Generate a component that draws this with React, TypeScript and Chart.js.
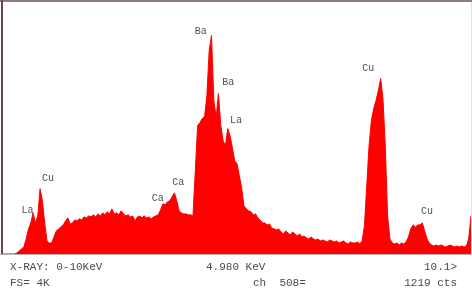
import React, { useEffect, useRef } from "react";
import { Chart, registerables } from "chart.js";

Chart.register(...registerables);

// Energy axis (keV), one entry per sample
const energyKeV: number[] = [
  0.0, 0.05, 0.1, 0.15, 0.2, 0.25, 0.3, 0.35, 0.4, 0.45,
  0.5, 0.55, 0.6, 0.65, 0.7, 0.75, 0.8, 0.85, 0.9, 0.95,
  1.0, 1.05, 1.1, 1.15, 1.2, 1.25, 1.3, 1.35, 1.4, 1.45,
  1.5, 1.55, 1.6, 1.65, 1.7, 1.75, 1.8, 1.85, 1.9, 1.95,
  2.0, 2.05, 2.1, 2.15, 2.2, 2.25, 2.3, 2.35, 2.4, 2.45,
  2.5, 2.55, 2.6, 2.65, 2.7, 2.75, 2.8, 2.85, 2.9, 2.95,
  3.0, 3.05, 3.1, 3.15, 3.2, 3.25, 3.3, 3.35, 3.4, 3.45,
  3.5, 3.55, 3.6, 3.65, 3.7, 3.75, 3.8, 3.85, 3.9, 3.95,
  4.0, 4.05, 4.1, 4.15, 4.2, 4.25, 4.3, 4.35, 4.4, 4.45,
  4.5, 4.55, 4.6, 4.65, 4.7, 4.75, 4.8, 4.85, 4.9, 4.95,
  5.0, 5.05, 5.1, 5.15, 5.2, 5.25, 5.3, 5.35, 5.4, 5.45,
  5.5, 5.55, 5.6, 5.65, 5.7, 5.75, 5.8, 5.85, 5.9, 5.95,
  6.0, 6.05, 6.1, 6.15, 6.2, 6.25, 6.3, 6.35, 6.4, 6.45,
  6.5, 6.55, 6.6, 6.65, 6.7, 6.75, 6.8, 6.85, 6.9, 6.95,
  7.0, 7.05, 7.1, 7.15, 7.2, 7.25, 7.3, 7.35, 7.4, 7.45,
  7.5, 7.55, 7.6, 7.65, 7.7, 7.75, 7.8, 7.85, 7.9, 7.95,
  8.0, 8.05, 8.1, 8.15, 8.2, 8.25, 8.3, 8.35, 8.4, 8.45,
  8.5, 8.55, 8.6, 8.65, 8.7, 8.75, 8.8, 8.85, 8.9, 8.95,
  9.0, 9.05, 9.1, 9.15, 9.2, 9.25, 9.3, 9.35, 9.4, 9.45,
  9.5, 9.55, 9.6, 9.65, 9.7, 9.75, 9.8, 9.85, 9.9, 9.95,
  10.0, 10.05, 10.1,
];

// Counts
const counts: number[] = [
  0, 0, 0, 0, 0, 0, 16, 49, 82, 114,
  245, 408, 505, 668, 505, 619, 1060, 864, 505, 212,
  179, 179, 277, 375, 408, 440, 473, 538, 587, 489,
  505, 554, 538, 571, 554, 603, 587, 619, 603, 636,
  603, 652, 619, 668, 636, 685, 652, 734, 652, 668,
  636, 701, 652, 619, 636, 603, 619, 538, 603, 619,
  587, 619, 587, 603, 571, 603, 619, 636, 717, 815,
  799, 848, 864, 929, 994, 864, 701, 668, 652, 652,
  636, 636, 619, 1353, 2086, 2135, 2201, 2233, 2575, 3309,
  3553, 2494, 2217, 2608, 2086, 1842, 1760, 2038, 1923, 1728,
  1516, 1467, 1271, 1076, 782, 734, 701, 685, 636, 652,
  587, 554, 505, 505, 473, 489, 424, 408, 391, 408,
  359, 326, 375, 342, 310, 359, 326, 293, 326, 277,
  293, 261, 245, 277, 245, 228, 245, 212, 228, 212,
  196, 228, 212, 196, 212, 179, 196, 212, 179, 163,
  196, 179, 179, 196, 163, 212, 456, 1108, 1760, 2168,
  2364, 2494, 2657, 2853, 2527, 1760, 619, 245, 179, 163,
  179, 147, 179, 163, 196, 277, 408, 473, 440, 473,
  473, 505, 375, 245, 179, 147, 130, 147, 130, 147,
  130, 114, 130, 147, 130, 114, 130, 114, 130, 114,
  130, 245, 619,
];

// Peak labels: element, energy (keV), count position of label
const peakNames: string[] = ["La", "Cu", "Ca", "Ca", "Ba", "Ba", "La", "Cu", "Cu"];
const peakEnergy: number[] = [0.53, 0.97, 3.34, 3.78, 4.27, 4.86, 5.03, 7.88, 9.15];
const peakLabelCounts: number[] = [715, 1235, 905, 1160, 3625, 2790, 2180, 3010, 700];

const footerLine1 = { left: "X-RAY: 0-10KeV", mid: "4.980 KeV", right: "10.1>" };
const footerLine2 = { left: "FS= 4K", mid: "ch  508=", right: "1219 cts" };

const X_MIN = 0;
const X_MAX = 10.1;
const Y_MAX = 4096;

export default function App() {
  const ref = useRef<HTMLCanvasElement | null>(null);

  useEffect(() => {
    if (!ref.current) return;
    const labelPlugin = {
      id: "peakLabels",
      afterDatasetsDraw(chart: any) {
        const { ctx, scales } = chart;
        ctx.save();
        ctx.font = '10px "Liberation Mono", monospace';
        ctx.fillStyle = "#505050";
        ctx.textAlign = "center";
        ctx.textBaseline = "middle";
        peakNames.forEach((n, i) => {
          ctx.fillText(
            n,
            scales.x.getPixelForValue(peakEnergy[i]),
            scales.y.getPixelForValue(peakLabelCounts[i])
          );
        });
        ctx.restore();
      },
    };
    const framePlugin = {
      id: "frame",
      beforeDraw(chart: any) {
        const { ctx, width, height } = chart;
        ctx.save();
        ctx.fillStyle = "#ffffff";
        ctx.fillRect(0, 0, width, height);
        ctx.restore();
      },
      afterDraw(chart: any) {
        const { ctx, chartArea, width } = chart;
        ctx.save();
        ctx.fillStyle = "#8d7c82";
        ctx.fillRect(0, 0, width, 2);
        ctx.fillStyle = "#6e4444";
        ctx.fillRect(1, 0, 2, chartArea.bottom);
        ctx.fillStyle = "#b4b4b4";
        ctx.fillRect(0, chartArea.bottom, width, 1);
        ctx.fillStyle = "#e2e2e2";
        ctx.fillRect(width - 1, 2, 1, chartArea.bottom - 2);
        ctx.restore();
      },
    };

    const chart = new Chart(ref.current, {
      type: "line",
      data: {
        datasets: [
          {
            data: energyKeV.map((e, i) => ({ x: e, y: counts[i] })),
            borderColor: "#ff0000",
            borderWidth: 1,
            backgroundColor: "#ff0000",
            fill: "origin",
            pointRadius: 0,
            tension: 0,
          },
        ],
      },
      options: {
        responsive: false,
        animation: false,
        devicePixelRatio: 1,
        layout: { padding: { left: 3, right: 1, top: 2, bottom: 37 } },
        plugins: { legend: { display: false }, tooltip: { enabled: false } },
        scales: {
          x: { type: "linear", min: X_MIN, max: X_MAX, display: false },
          y: { type: "linear", min: 0, max: Y_MAX, display: false },
        },
      },
      plugins: [framePlugin, labelPlugin],
    });
    return () => chart.destroy();
  }, []);

  const txt: React.CSSProperties = {
    position: "absolute",
    fontFamily: '"Liberation Mono", monospace',
    fontSize: "11px",
    lineHeight: "13px",
    color: "#4a4a4a",
    whiteSpace: "pre",
  };

  return (
    <div style={{ position: "absolute", left: 0, top: 0, width: 472, height: 291, background: "#fff" }}>
      <canvas ref={ref} width={472} height={291} style={{ display: "block" }} />
      <span style={{ ...txt, left: 10, top: 261 }}>{footerLine1.left}</span>
      <span style={{ ...txt, left: 206, top: 261 }}>{footerLine1.mid}</span>
      <span style={{ ...txt, right: 15, top: 261 }}>{footerLine1.right}</span>
      <span style={{ ...txt, left: 10, top: 277 }}>{footerLine2.left}</span>
      <span style={{ ...txt, left: 253, top: 277 }}>{footerLine2.mid}</span>
      <span style={{ ...txt, right: 15, top: 277 }}>{footerLine2.right}</span>
    </div>
  );
}
